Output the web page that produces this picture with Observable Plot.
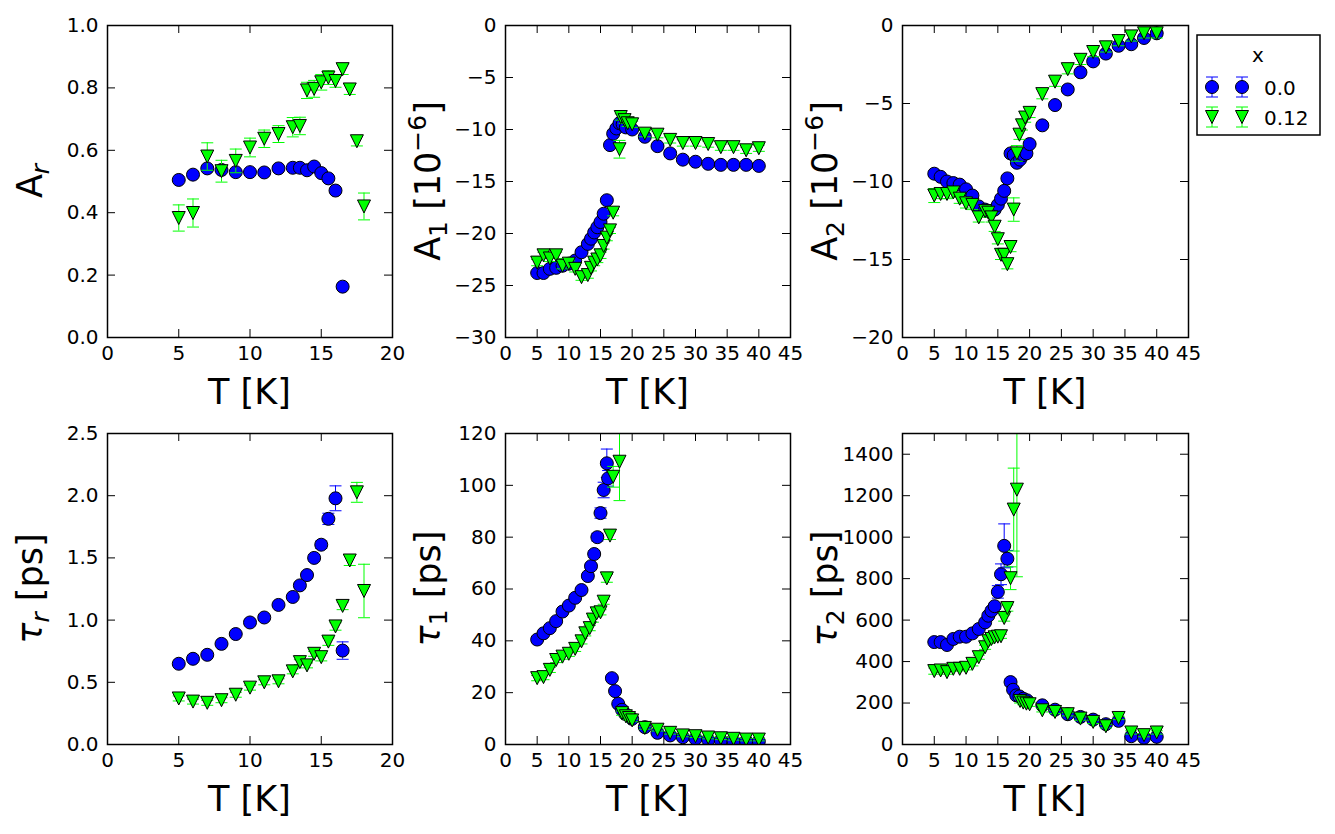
<!DOCTYPE html>
<html><head><meta charset="utf-8">
<script src="https://cdn.jsdelivr.net/npm/d3@7"></script>
<script src="https://cdn.jsdelivr.net/npm/@observablehq/plot@0.6"></script>
<style>
body{margin:0;background:#fff;}
#fig{position:relative;width:1335px;height:834px;font-family:"DejaVu Sans";overflow:hidden;}
#fig svg{position:absolute;}
</style></head><body><div id="fig"></div>
<script>
// ---------- data ----------
const seriesNames = ["0.0", "0.12"];
const legendTitle = "x";

// A_r
const arT0 = [5,6,7,8,9,10,11,12,13,13.5,14,14.5,15,15.5,16,16.5];
const arV0 = [0.505,0.522,0.542,0.537,0.530,0.530,0.529,0.542,0.544,0.544,0.536,0.548,0.527,0.510,0.471,0.163];
const arE0 = [0.005,0.005,0.005,0.005,0.005,0.005,0.005,0.005,0.005,0.005,0.005,0.005,0.005,0.005,0.005,0.005];
const arT1 = [5,6,7,8,9,10,11,12,13,13.5,14,14.5,15,15.5,16,16.5,17,17.5,18];
const arV1 = [0.383,0.399,0.580,0.533,0.566,0.609,0.637,0.652,0.674,0.678,0.792,0.797,0.818,0.833,0.822,0.860,0.795,0.629,0.420];
const arE1 = [0.042,0.045,0.044,0.035,0.038,0.030,0.028,0.027,0.031,0.028,0.026,0.027,0.025,0.022,0.020,0.017,0.016,0.015,0.043];

// A_1
const a1T0 = [5,6,7,8,9,10,11,12,13,13.5,14,14.5,15,15.5,16,16.5,17,17.5,18,18.5,19,20,22,24,26,28,30,32,34,36,38,40];
const a1V0 = [-23.8,-23.8,-23.4,-23.3,-23.1,-22.9,-22.6,-21.8,-21.0,-20.5,-19.9,-19.4,-18.9,-18.1,-16.8,-11.5,-10.4,-9.9,-9.4,-9.5,-9.8,-10.0,-10.7,-11.6,-12.3,-12.9,-13.1,-13.3,-13.4,-13.4,-13.4,-13.5];
const a1E0 = [0.15,0.15,0.15,0.15,0.15,0.15,0.15,0.15,0.15,0.15,0.15,0.15,0.15,0.15,0.15,0.15,0.15,0.15,0.15,0.15,0.15,0.15,0.15,0.15,0.15,0.15,0.15,0.15,0.15,0.15,0.15,0.15];
const a1T1 = [5,6,7,8,9,10,11,12,13,13.5,14,14.5,15,15.5,16,16.5,17,18,18.2,18.8,19.3,20,22,24,26,28,30,32,34,36,38,40];
const a1V1 = [-22.8,-22.1,-22.4,-22.1,-23.1,-22.9,-23.4,-24.2,-24.0,-23.3,-22.8,-22.5,-22.1,-21.2,-20.4,-19.7,-18.0,-11.9,-8.8,-9.1,-9.4,-9.5,-10.4,-10.5,-11.0,-11.3,-11.3,-11.4,-11.7,-11.7,-12.0,-11.8];
const a1E1 = [0.3,0.3,0.3,0.3,0.3,0.3,0.3,0.3,0.3,0.3,0.3,0.3,0.3,0.3,0.3,0.3,0.3,0.85,0.3,0.3,0.3,0.3,0.3,0.3,0.3,0.3,0.3,0.3,0.3,0.3,0.3,0.3];

// A_2
const a2T0 = [5,6,7,8,9,10,11,12,13,13.5,14,14.5,15,15.5,16,16.5,17,17.5,18,18.5,19,19.5,20,22,24,26,28,30,32,34,36,38,40];
const a2V0 = [-9.5,-9.7,-10.0,-10.1,-10.2,-10.5,-10.9,-11.6,-11.8,-11.9,-11.9,-11.8,-11.5,-11.1,-10.6,-9.8,-8.2,-8.3,-8.8,-8.6,-8.3,-8.2,-7.6,-6.4,-5.1,-4.1,-3.0,-2.3,-1.8,-1.3,-1.2,-0.8,-0.5];
const a2E0 = [0.15,0.15,0.15,0.15,0.15,0.15,0.15,0.15,0.15,0.15,0.15,0.15,0.15,0.15,0.15,0.15,0.15,0.15,0.15,0.15,0.15,0.15,0.15,0.15,0.15,0.15,0.15,0.15,0.15,0.15,0.15,0.15,0.15];
const a2T1 = [5,6,7,8,9,10,11,12,13,13.5,14,14.5,15,15.5,16,16.5,17,17.5,18,18.4,18.8,19.3,20,22,24,26,28,30,32,34,36,38,40];
const a2V1 = [-10.9,-10.8,-10.8,-10.7,-11.1,-11.4,-11.5,-12.3,-11.9,-12.0,-12.3,-12.9,-13.7,-14.7,-14.7,-15.3,-14.2,-11.8,-8.2,-7.0,-6.4,-5.9,-5.6,-4.4,-3.6,-2.8,-2.2,-1.7,-1.4,-1.0,-0.7,-0.5,-0.5];
const a2E1 = [0.45,0.3,0.3,0.3,0.3,0.3,0.3,0.3,0.3,0.3,0.3,0.3,0.3,0.3,0.3,0.3,0.3,0.75,0.5,0.3,0.3,0.3,0.3,0.3,0.3,0.3,0.3,0.3,0.3,0.3,0.3,0.3,0.3];

// tau_r
const trT0 = [5,6,7,8,9,10,11,12,13,13.5,14,14.5,15,15.5,16,16.5];
const trV0 = [0.649,0.689,0.721,0.809,0.888,0.981,1.021,1.122,1.186,1.279,1.362,1.500,1.606,1.814,1.979,0.755];
const trE0 = [0.01,0.01,0.01,0.01,0.01,0.015,0.015,0.015,0.015,0.02,0.02,0.025,0.03,0.045,0.1,0.07];
const trT1 = [5,6,7,8,9,10,11,12,13,13.5,14,14.5,15,15.5,16,16.5,17,17.5,18];
const trV1 = [0.37,0.345,0.335,0.356,0.40,0.457,0.50,0.508,0.588,0.662,0.636,0.729,0.702,0.827,0.949,1.114,1.479,2.027,1.234];
const trE1 = [0.02,0.02,0.02,0.02,0.02,0.02,0.02,0.02,0.02,0.02,0.02,0.02,0.03,0.03,0.03,0.03,0.04,0.08,0.215];

// tau_1
const t1T0 = [5,6,7,8,9,10,11,12,13,13.5,14,14.5,15,15.5,16,16.2,16.8,17.3,17.8,18.4,18.9,20,22,24,26,28,30,32,34,36,38,40];
const t1V0 = [40.5,42.9,44.9,47.6,51.3,53.6,56.6,59.6,65.0,68.8,73.5,80.0,89.3,98.2,108.5,102.7,25.6,20.6,15.7,13.4,11.8,9.9,6.7,4.5,3.5,2.8,2.2,1.8,1.5,1.3,1.3,1.2];
const t1E0 = [0.5,0.5,0.5,0.5,0.6,0.6,0.7,0.8,1,1,1.2,1.5,2,3,5.5,3,0.8,0.6,0.5,0.5,0.5,0.4,0.3,0.3,0.3,0.3,0.3,0.3,0.3,0.3,0.3,0.3];
const t1T1 = [5,6,7,8,9,10,11,12,12.6,13.3,13.8,14.4,15,15.5,16,16.5,17,18,18.4,19,19.5,20,22,24,26,28,30,32,34,36,38,40];
const t1V1 = [25.6,26.0,28.8,32.6,33.9,35.0,36.9,39.8,42.9,44.9,48.2,50.6,51.0,55.1,64.1,80.6,103.3,109.1,12.1,10.9,10.2,9.3,6.4,5.7,4.5,3.5,3.2,2.7,2.4,2.2,1.9,1.9];
const t1E1 = [1,1,1,1,1,1,1,1,1,1,1,1,1,1,1.5,1.5,4,15,0.8,0.6,0.6,0.5,0.5,0.5,0.5,0.5,0.5,0.5,0.5,0.5,0.5,0.5];

// tau_2
const t2T0 = [5,6,7,8,9,10,11,12,13,13.5,14,14.5,15,15.5,16,16.5,17,17.4,17.9,18.4,19,19.6,22,24,26,28,30,32,34,36,38,40];
const t2V0 = [494,494,480,509,520,520,536,557,589,621,645,667,736,821,958,896,301,264,237,232,221,213,189,168,146,133,120,98,114,40,32,37];
const t2E0 = [8,8,8,8,8,8,8,8,10,12,14,15,30,50,106,40,15,10,8,8,8,8,6,6,6,6,6,6,6,6,6,6];
const t2T1 = [5,6,7,8,9,10,11,12,13,13.5,14,14.5,15,15.5,16,16.5,17,17.5,18,18.5,19,19.5,20,22,24,26,28,30,32,34,36,38,40];
const t2V1 = [354,357,349,365,365,370,389,421,469,498,509,517,520,522,610,658,802,1133,1229,210,202,197,194,165,157,146,125,109,88,128,58,45,58];
const t2E1 = [15,10,10,10,10,10,10,10,10,10,10,10,10,10,15,15,55,200,420,10,10,10,10,8,8,8,8,8,8,8,8,8,8];

// axis ticks
const xTicks20 = [0,5,10,15,20];
const xTicks45 = [0,5,10,15,20,25,30,35,40,45];
const yTicksAr = [0,0.2,0.4,0.6,0.8,1.0];
const yTicksA1 = [-30,-25,-20,-15,-10,-5,0];
const yTicksA2 = [-20,-15,-10,-5,0];
const yTicksTr = [0,0.5,1.0,1.5,2.0,2.5];
const yTicksT1 = [0,20,40,60,80,100,120];
const yTicksT2 = [0,200,400,600,800,1000,1200,1400];

// ---------- drawing ----------
const BLUE = "#0000ff", GREEN = "#00ff00";
const triDown = {draw(ctx, size){const r = Math.sqrt(size/Math.PI); ctx.moveTo(-r,-r); ctx.lineTo(r,-r); ctx.lineTo(0,r); ctx.closePath();}};
const capSym = {draw(ctx, size){const r = Math.sqrt(size/Math.PI); ctx.moveTo(-r,0); ctx.lineTo(r,0);}};
const rows = (T,V,E) => T.map((t,i) => ({T:t, v:V[i], e:E[i]}));
const minus = d => d < 0 ? "\u2212" + (-d) : String(d);

function seriesMarks(data, color, symbol){
  return [
    Plot.ruleX(data, {x:"T", y1:d=>d.v-d.e, y2:d=>d.v+d.e, stroke:color, strokeWidth:1, clip:true}),
    Plot.dot(data, {x:"T", y:d=>d.v-d.e, symbol:capSym, r:6, stroke:color, fill:"none", strokeWidth:1, clip:true}),
    Plot.dot(data, {x:"T", y:d=>d.v+d.e, symbol:capSym, r:6, stroke:color, fill:"none", strokeWidth:1, clip:true}),
    Plot.dot(data, {x:"T", y:"v", symbol, r:6.5, fill:color, stroke:"black", strokeWidth:1, clip:true})
  ];
}

function yLabel(t, main, sub, subItalic, sup){
  // main symbol
  const isTau = main === "\u03c4";
  t.append("tspan").attr("font-style", isTau ? "italic" : null).text(main);
  t.append("tspan").attr("font-size",25).attr("font-style", subItalic ? "italic":null).attr("dy",7).text(sub);
  if (sup) {
    t.append("tspan").attr("dy",-7).text(" [10");
    t.append("tspan").attr("font-size",25).attr("dy",-14).text(sup);
    t.append("tspan").attr("dy",14).text("]");
  } else if (isTau) {
    t.append("tspan").attr("dy",-7).text(" [ps]");
  }
}

const fig = document.getElementById("fig");
function panel(o){
  const mL=100, mT=20, mR=20, mB=80;
  const {L,T,W,H} = o;
  const svgEl = Plot.plot({
    width: W+mL+mR, height: H+mT+mB,
    marginLeft:mL, marginTop:mT, marginRight:mR, marginBottom:mB,
    style:{background:"transparent", fontFamily:"DejaVu Sans", fontSize:"20px", color:"black", overflow:"visible"},
    x:{domain:o.xDomain, ticks:o.xTicks, tickSize:0, tickPadding:8, label:null, tickFormat:minus},
    y:{domain:o.yDomain, ticks:o.yTicks, tickSize:0, tickPadding:9, label:null, tickFormat:o.yFmt || minus},
    marks:[
      Plot.tickX(o.xTicks, {x:d=>d, insetTop:H-8, stroke:"black"}),
      Plot.tickX(o.xTicks, {x:d=>d, insetBottom:H-8, stroke:"black"}),
      Plot.tickY(o.yTicks, {y:d=>d, insetLeft:W-8, stroke:"black"}),
      Plot.tickY(o.yTicks, {y:d=>d, insetRight:W-8, stroke:"black"}),
      ...seriesMarks(o.s0, BLUE, "circle"),
      ...seriesMarks(o.s1, GREEN, triDown),
      Plot.frame({stroke:"black", strokeWidth:1.5})
    ]
  });
  svgEl.style.left = (L-mL)+"px";
  svgEl.style.top = (T-mT)+"px";
  const svg = d3.select(svgEl);
  svg.append("text").attr("x", mL+W/2).attr("y", mT+H+67).attr("text-anchor","middle")
     .attr("font-size",35).attr("fill","black").text("T [K]");
  const yl = svg.append("text").attr("transform", `translate(${mL-65},${mT+H/2}) rotate(-90)`)
     .attr("text-anchor","middle").attr("font-size",35).attr("fill","black");
  o.ylabel(yl);
  fig.appendChild(svgEl);
}

const f1 = d3.format(".1f");
panel({L:107,T:25,W:285,H:312,xDomain:[0,20],xTicks:xTicks20,yDomain:[0,1],yTicks:yTicksAr,yFmt:f1,
  s0:rows(arT0,arV0,arE0), s1:rows(arT1,arV1,arE1), ylabel:t=>yLabel(t,"A","r",true)});
panel({L:505,T:25,W:285,H:312,xDomain:[0,45],xTicks:xTicks45,yDomain:[-30,0],yTicks:yTicksA1,
  s0:rows(a1T0,a1V0,a1E0), s1:rows(a1T1,a1V1,a1E1), ylabel:t=>yLabel(t,"A","1",false,"\u22126")});
panel({L:902,T:25,W:286,H:312,xDomain:[0,45],xTicks:xTicks45,yDomain:[-20,0],yTicks:yTicksA2,
  s0:rows(a2T0,a2V0,a2E0), s1:rows(a2T1,a2V1,a2E1), ylabel:t=>yLabel(t,"A","2",false,"\u22126")});
panel({L:107,T:433,W:285,H:311,xDomain:[0,20],xTicks:xTicks20,yDomain:[0,2.5],yTicks:yTicksTr,yFmt:f1,
  s0:rows(trT0,trV0,trE0), s1:rows(trT1,trV1,trE1), ylabel:t=>yLabel(t,"\u03c4","r",true)});
panel({L:505,T:433,W:285,H:311,xDomain:[0,45],xTicks:xTicks45,yDomain:[0,120],yTicks:yTicksT1,
  s0:rows(t1T0,t1V0,t1E0), s1:rows(t1T1,t1V1,t1E1), ylabel:t=>yLabel(t,"\u03c4","1",false)});
panel({L:902,T:433,W:286,H:311,xDomain:[0,45],xTicks:xTicks45,yDomain:[0,1500],yTicks:yTicksT2,
  s0:rows(t2T0,t2V0,t2E0), s1:rows(t2T1,t2V1,t2E1), ylabel:t=>yLabel(t,"\u03c4","2",false)});

// ---------- legend ----------
const lg = d3.select(fig).append("svg").attr("width",140).attr("height",125)
  .style("left","1190px").style("top","25px").style("font-family","DejaVu Sans");
lg.append("rect").attr("x",7).attr("y",10).attr("width",123).attr("height",100)
  .attr("fill","white").attr("stroke","black").attr("stroke-width",1.5);
lg.append("text").attr("x",68).attr("y",37).attr("text-anchor","middle").attr("font-size",20).text(legendTitle);
const symCircle = d3.symbol().type(d3.symbolCircle).size(Math.PI*6.5*6.5)();
const symTri = d3.symbol().type(triDown).size(Math.PI*6.5*6.5)();
const legendItems = [{name:seriesNames[0], color:BLUE, sym:symCircle, cy:62},
                     {name:seriesNames[1], color:GREEN, sym:symTri, cy:92}];
legendItems.forEach(it => {
  [22,52].forEach(cx => {
    const g = lg.append("g").attr("transform",`translate(${cx},${it.cy})`);
    g.append("line").attr("y1",-10).attr("y2",10).attr("stroke",it.color);
    g.append("line").attr("x1",-6).attr("x2",6).attr("y1",-10).attr("y2",-10).attr("stroke",it.color);
    g.append("line").attr("x1",-6).attr("x2",6).attr("y1",10).attr("y2",10).attr("stroke",it.color);
    g.append("path").attr("d",it.sym).attr("fill",it.color).attr("stroke","black");
  });
  lg.append("text").attr("x",74).attr("y",it.cy+8).attr("font-size",20).text(it.name);
});
</script></body></html>
